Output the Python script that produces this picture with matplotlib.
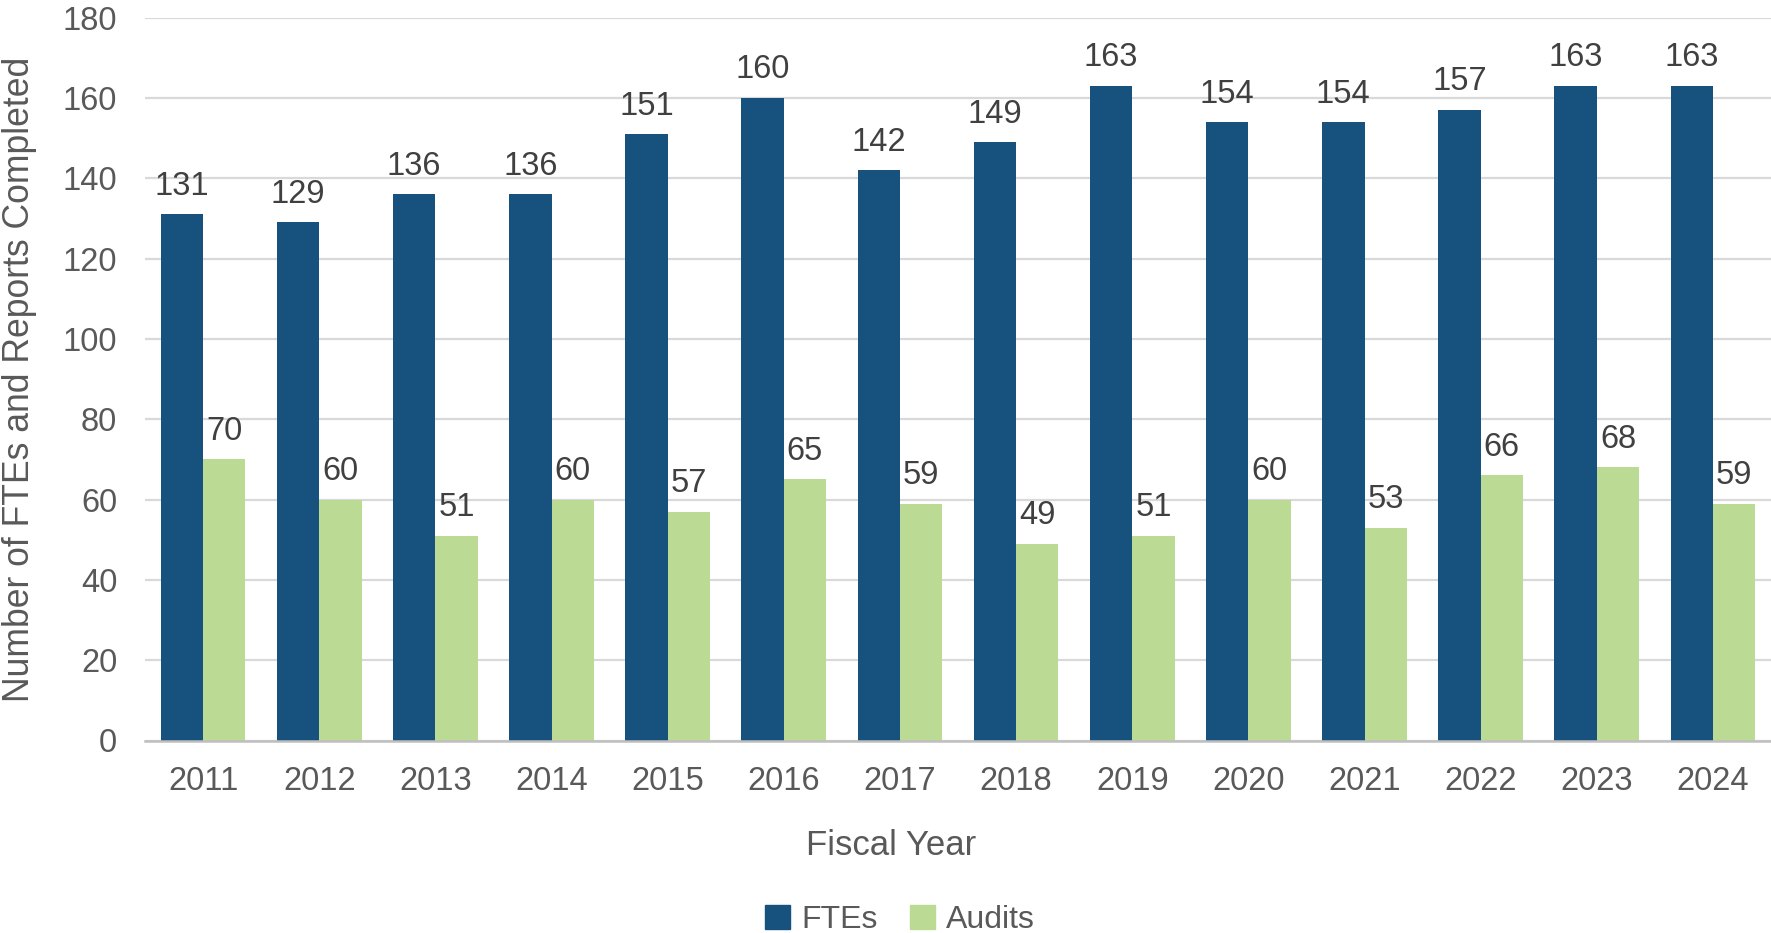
import numpy as np
import matplotlib.pyplot as plt
from matplotlib.patches import Patch

plt.rcParams['font.family'] = ['Liberation Sans', 'DejaVu Sans']

# data
years = ['2011', '2012', '2013', '2014', '2015', '2016', '2017',
         '2018', '2019', '2020', '2021', '2022', '2023', '2024']
ftes = [131, 129, 136, 136, 151, 160, 142, 149, 163, 154, 154, 157, 163, 163]
audits = [70, 60, 51, 60, 57, 65, 59, 49, 51, 60, 53, 66, 68, 59]
yticks = [0, 20, 40, 60, 80, 100, 120, 140, 160, 180]

FTE_COLOR = '#16527D'
AUDIT_COLOR = '#BBDB94'
TICK_GRAY = '#595959'
LABEL_GRAY = '#404040'

W, H = 1771, 933
fig = plt.figure(figsize=(W / 100, H / 100), dpi=100)
# axes box placed in pixel terms of the reference
left, right, top, bottom = 145, 1771, 17.6, 740.5
ax = fig.add_axes([left / W, 1 - bottom / H, (right - left) / W, (bottom - top) / H])

x = np.arange(len(years))
w = 0.365
b1 = ax.bar(x - w / 2, ftes, w, color=FTE_COLOR, zorder=3)
b2 = ax.bar(x + w / 2, audits, w, color=AUDIT_COLOR, zorder=3)

for bars, vals in ((b1, ftes), (b2, audits)):
    for rect, v in zip(bars, vals):
        ax.annotate(str(v), (rect.get_x() + rect.get_width() / 2, v),
                    xytext=(0, 9), textcoords='offset points',
                    ha='center', va='bottom', fontsize=23.5, color=LABEL_GRAY)

ax.set_xlim(-0.5, len(years) - 0.5)
ax.set_ylim(0, 180)
ax.set_yticks(yticks)
ax.set_xticks(x)
ax.set_xticklabels(years)
ax.tick_params(axis='both', length=0, labelsize=23.5, labelcolor=TICK_GRAY)
ax.tick_params(axis='x', pad=18)
ax.tick_params(axis='y', pad=20)

ax.grid(axis='y', color='#D9D9D9', linewidth=1.6, zorder=0)
for s in ('top', 'right', 'left'):
    ax.spines[s].set_visible(False)
ax.spines['bottom'].set_color('#BFBFBF')
ax.spines['bottom'].set_linewidth(1.8)
ax.spines['bottom'].set_zorder(4)

fig.text(20 / W, 1 - 379 / H, 'Number of FTEs and Reports Completed',
         rotation=90, ha='center', va='center', fontsize=25.6, color=TICK_GRAY)
fig.text(891 / W, 1 - 855 / H, 'Fiscal Year', ha='center', va='baseline',
         fontsize=25, color=TICK_GRAY)

handles = [Patch(color=FTE_COLOR, label='FTEs'),
           Patch(color=AUDIT_COLOR, label='Audits')]
leg = fig.legend(handles=handles, loc='center', ncol=2,
                 bbox_to_anchor=(900 / W, 1 - 920 / H), frameon=False,
                 fontsize=23, handlelength=0.78, handleheight=0.78,
                 handletextpad=0.35, columnspacing=1.0, borderpad=0)
for t in leg.get_texts():
    t.set_color(TICK_GRAY)

fig.savefig('out.png', dpi=100)
